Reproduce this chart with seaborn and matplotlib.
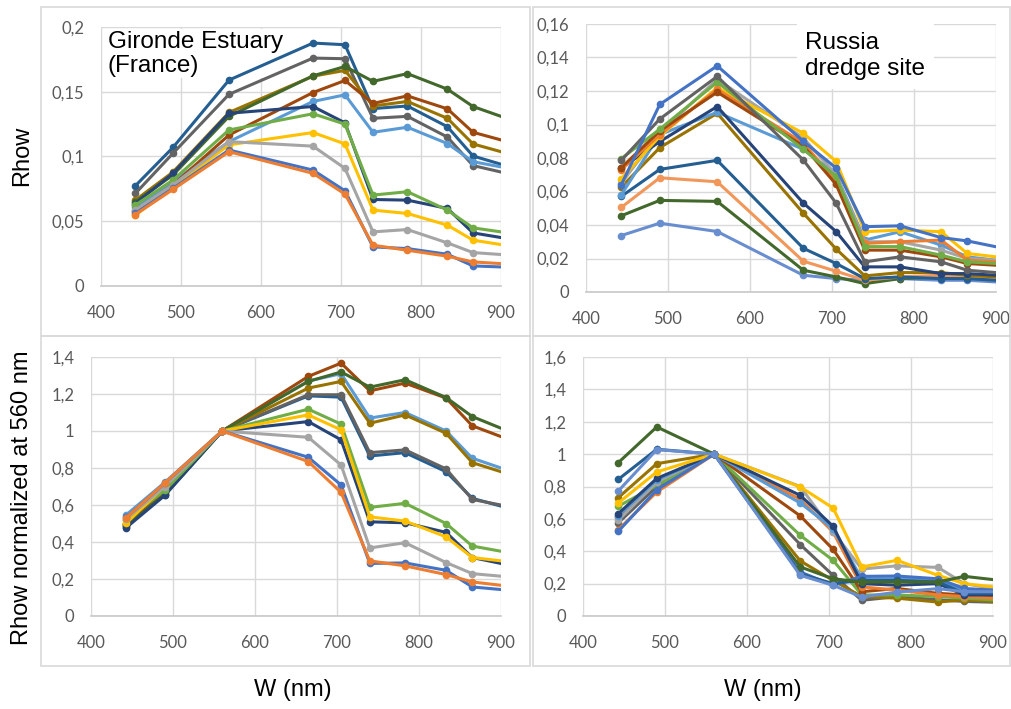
import numpy as np
import pandas as pd
import matplotlib
matplotlib.use("Agg")
import matplotlib.pyplot as plt
from matplotlib.patches import Rectangle
from matplotlib.ticker import FuncFormatter, MultipleLocator
import seaborn as sns

# ---- wavelengths (nm); last band lies beyond the 900 nm axis limit ----
WL = [443, 490, 560, 665, 705, 740, 783, 833, 865, 945]

# ---- Gironde Estuary, Rhow ----
gironde_rhow = {
    "steel":   [0.0774, 0.107, 0.159, 0.1876, 0.1863, 0.137, 0.139, 0.123, 0.1004, 0.0858],
    "dkgray":  [0.0715, 0.1025, 0.148, 0.176, 0.1755, 0.1295, 0.131, 0.115, 0.093, 0.0816],
    "lblue":   [0.061, 0.0805, 0.1115, 0.1425, 0.1476, 0.1187, 0.1226, 0.110, 0.096, 0.0868],
    "olive":   [0.0663, 0.088, 0.134, 0.162, 0.1665, 0.139, 0.1425, 0.1295, 0.1097, 0.096],
    "brown":   [0.0578, 0.078, 0.1166, 0.1494, 0.1587, 0.141, 0.1468, 0.1368, 0.1187, 0.1052],
    "dkgreen": [0.065, 0.0857, 0.131, 0.1623, 0.1695, 0.158, 0.164, 0.152, 0.1386, 0.1212],
    "navy":    [0.0637, 0.087, 0.1334, 0.1386, 0.126, 0.0668, 0.0663, 0.0599, 0.041, 0.0328],
    "green":   [0.0625, 0.0818, 0.1205, 0.133, 0.125, 0.0702, 0.0728, 0.0586, 0.0449, 0.0378],
    "yellow":  [0.0547, 0.0766, 0.109, 0.1185, 0.1097, 0.0586, 0.056, 0.047, 0.0354, 0.0276],
    "lgray":   [0.0586, 0.078, 0.1115, 0.108, 0.0908, 0.0418, 0.0436, 0.0333, 0.0258, 0.0224],
    "blue":    [0.056, 0.0754, 0.105, 0.0895, 0.0735, 0.0302, 0.0289, 0.0245, 0.0155, 0.0137],
    "orange":  [0.0552, 0.0746, 0.1037, 0.087, 0.071, 0.0315, 0.0276, 0.023, 0.0186, 0.0156],
}

# ---- Gironde Estuary, Rhow normalized at 560 nm ----
gironde_norm = {
    "steel":   [0.487, 0.673, 1, 1.19, 1.183, 0.865, 0.883, 0.78, 0.636, 0.54],
    "dkgray":  [0.483, 0.693, 1, 1.196, 1.196, 0.883, 0.898, 0.795, 0.63, 0.561],
    "lblue":   [0.547, 0.722, 1, 1.27, 1.31, 1.07, 1.10, 1.0, 0.853, 0.732],
    "olive":   [0.495, 0.657, 1, 1.232, 1.268, 1.042, 1.087, 0.988, 0.829, 0.717],
    "brown":   [0.496, 0.669, 1, 1.295, 1.367, 1.217, 1.259, 1.178, 1.028, 0.895],
    "dkgreen": [0.49, 0.655, 1, 1.268, 1.319, 1.237, 1.277, 1.181, 1.078, 0.934],
    "navy":    [0.478, 0.652, 1, 1.051, 0.952, 0.509, 0.504, 0.452, 0.316, 0.243],
    "green":   [0.519, 0.679, 1, 1.118, 1.037, 0.587, 0.609, 0.5, 0.378, 0.314],
    "yellow":  [0.502, 0.703, 1, 1.087, 1.006, 0.536, 0.513, 0.428, 0.316, 0.275],
    "lgray":   [0.526, 0.70, 1, 0.966, 0.816, 0.368, 0.396, 0.289, 0.229, 0.197],
    "blue":    [0.533, 0.718, 1, 0.858, 0.708, 0.284, 0.287, 0.247, 0.157, 0.125],
    "orange":  [0.532, 0.719, 1, 0.835, 0.668, 0.298, 0.271, 0.224, 0.184, 0.143],
}

# ---- Russia dredge site, Rhow ----
russia_rhow = {
    "cornflower": [0.0337, 0.0411, 0.0361, 0.010, 0.008, 0.007, 0.008, 0.007, 0.007, 0.0047],
    "dkgreen":    [0.0455, 0.0547, 0.0541, 0.013, 0.009, 0.005, 0.008, 0.009, 0.009, 0.0067],
    "lorange":    [0.0505, 0.0682, 0.0658, 0.0184, 0.0124, 0.007, 0.009, 0.010, 0.009, 0.0067],
    "steel":      [0.0571, 0.0732, 0.0786, 0.0261, 0.017, 0.008, 0.009, 0.008, 0.008, 0.0057],
    "olive":      [0.0626, 0.0862, 0.1067, 0.0471, 0.0257, 0.0096, 0.0116, 0.0116, 0.010, 0.0077],
    "lblue":      [0.058, 0.094, 0.1073, 0.0852, 0.0702, 0.031, 0.036, 0.028, 0.021, 0.0164],
    "navy":       [0.074, 0.0898, 0.1107, 0.0531, 0.0361, 0.015, 0.015, 0.011, 0.011, 0.0087],
    "lgray":      [0.065, 0.095, 0.127, 0.092, 0.070, 0.030, 0.030, 0.025, 0.020, 0.0177],
    "yellow":     [0.0676, 0.093, 0.122, 0.0948, 0.078, 0.036, 0.037, 0.036, 0.023, 0.0184],
    "orange":     [0.073, 0.094, 0.121, 0.089, 0.066, 0.029, 0.030, 0.031, 0.019, 0.0167],
    "brown":      [0.0742, 0.0962, 0.1193, 0.0872, 0.0642, 0.025, 0.025, 0.021, 0.017, 0.0147],
    "green":      [0.0796, 0.0972, 0.1253, 0.0852, 0.069, 0.0271, 0.0271, 0.022, 0.018, 0.0157],
    "dkgray":     [0.0786, 0.1033, 0.1287, 0.0788, 0.0531, 0.018, 0.021, 0.018, 0.013, 0.0098],
    "blue":       [0.064, 0.112, 0.135, 0.090, 0.074, 0.039, 0.0395, 0.0325, 0.0305, 0.0225],
}

# ---- Russia dredge site, Rhow normalized at 560 nm ----
russia_norm = {
    "dkgray":     [0.575, 0.80, 1, 0.441, 0.251, 0.097, 0.12, 0.10, 0.09, 0.079],
    "olive":      [0.731, 0.941, 1, 0.34, 0.22, 0.12, 0.11, 0.086, 0.10, 0.077],
    "green":      [0.678, 0.807, 1, 0.498, 0.344, 0.13, 0.13, 0.12, 0.11, 0.087],
    "brown":      [0.612, 0.83, 1, 0.618, 0.412, 0.15, 0.17, 0.14, 0.13, 0.107],
    "orange":     [0.533, 0.766, 1, 0.72, 0.519, 0.18, 0.16, 0.13, 0.12, 0.097],
    "lgray":      [0.591, 0.828, 1, 0.80, 0.52, 0.29, 0.31, 0.30, 0.2, 0.131],
    "lblue":      [0.62, 0.84, 1, 0.698, 0.54, 0.23, 0.23, 0.22, 0.16, 0.15],
    "navy":       [0.632, 0.85, 1, 0.745, 0.554, 0.2, 0.19, 0.2, 0.13, 0.13],
    "yellow":     [0.698, 0.89, 1, 0.797, 0.667, 0.303, 0.344, 0.251, 0.20, 0.154],
    "blue":       [0.523, 0.78, 1, 0.272, 0.189, 0.245, 0.247, 0.23, 0.17, 0.147],
    "steel":      [0.844, 1.03, 1, 0.26, 0.20, 0.22, 0.22, 0.21, 0.14, 0.14],
    "dkgreen":    [0.947, 1.168, 1, 0.303, 0.23, 0.21, 0.21, 0.21, 0.245, 0.199],
    "cornflower": [0.772, 1.028, 1, 0.251, 0.19, 0.117, 0.148, 0.169, 0.15, 0.15],
}

COLORS = {
    "blue": "#4472C4", "orange": "#ED7D31", "lgray": "#A5A5A5", "yellow": "#FFC000",
    "lblue": "#5B9BD5", "green": "#70AD47", "navy": "#264478", "brown": "#9E480E",
    "dkgray": "#636363", "olive": "#997300", "steel": "#255E91", "dkgreen": "#43682B",
    "cornflower": "#698ED0", "lorange": "#F1975A",
}

W, H = 1011, 709
sns.set_theme(style="white")
plt.rcParams["font.family"] = ["Lato", "DejaVu Sans"]

fig = plt.figure(figsize=(W / 100, H / 100), dpi=100)
fig.patch.set_facecolor("white")


def px_axes(x0, y0, x1, y1):
    return fig.add_axes([x0 / W, 1 - y1 / H, (x1 - x0) / W, (y1 - y0) / H])


def comma(v, _pos):
    s = f"{v:.2f}".rstrip("0").rstrip(".")
    return s.replace(".", ",")


def draw(ax, data, ymax, ystep):
    rows = []
    for name, vals in data.items():
        for w, v in zip(WL, vals):
            rows.append({"wl": w, "val": v, "series": name})
    df = pd.DataFrame(rows)
    pal = {k: COLORS[k] for k in data}
    sns.lineplot(data=df, x="wl", y="val", hue="series", hue_order=list(data.keys()),
                 palette=pal, marker="o", markersize=5.5, markeredgewidth=0,
                 linewidth=2.2, legend=False, sort=False, estimator=None, ax=ax, zorder=3)
    ax.set_xlim(400, 900)
    ax.set_ylim(0, ymax)
    ax.xaxis.set_major_locator(MultipleLocator(100))
    ax.yaxis.set_major_locator(MultipleLocator(ystep))
    ax.yaxis.set_major_formatter(FuncFormatter(comma))
    ax.grid(True, color="#D9D9D9", linewidth=1.0)
    ax.set_axisbelow(True)
    for s in ["top", "right", "left"]:
        ax.spines[s].set_visible(False)
    ax.spines["bottom"].set_color("#C8C8C8")
    ax.spines["bottom"].set_linewidth(1.2)
    ax.tick_params(axis="both", length=0, labelsize=12, labelcolor="#595959")
    ax.tick_params(axis="x", pad=14)
    ax.tick_params(axis="y", pad=12)
    ax.set_xlabel("")
    ax.set_ylabel("")
    ax.set_facecolor("white")


# chart-area frames
for (x0, y0, x1, y1) in [(41, 7, 530, 336), (533, 7, 1010, 336),
                         (41, 336, 530, 666), (533, 336, 1010, 666)]:
    fig.add_artist(Rectangle((x0 / W, 1 - y1 / H), (x1 - x0) / W, (y1 - y0) / H,
                             transform=fig.transFigure, fill=False,
                             edgecolor="#D9D9D9", linewidth=1.2))

ax_tl = px_axes(101, 27, 501, 286)
ax_tr = px_axes(586, 24, 996, 292)
ax_bl = px_axes(91, 357, 501, 616)
ax_br = px_axes(583, 357, 993, 616)

draw(ax_tl, gironde_rhow, 0.2, 0.05)
draw(ax_tr, russia_rhow, 0.16, 0.02)
draw(ax_bl, gironde_norm, 1.4, 0.2)
draw(ax_br, russia_norm, 1.6, 0.2)

ax_tl.text(0.017, 0.985, "Gironde Estuary\n(France)", transform=ax_tl.transAxes,
           ha="left", va="top", fontsize=17.5, family="Liberation Sans", color="black",
           linespacing=1.1, zorder=2.5,
           bbox=dict(facecolor="white", edgecolor="none", pad=1))
ax_tr.text(0.535, 0.97, "Russia\ndredge site", transform=ax_tr.transAxes,
           ha="left", va="top", fontsize=17.5, family="Liberation Sans", color="black",
           linespacing=1.25, zorder=2.5,
           bbox=dict(facecolor="white", edgecolor="none", pad=6))

fig.text(22 / W, 1 - 156 / H, "Rhow", rotation=90, ha="center", va="center",
         fontsize=17, family="Liberation Sans", color="black")
fig.text(22 / W, 1 - 498 / H, "Rhow normalized at 560 nm", rotation=90,
         ha="center", va="center", fontsize=17, family="Liberation Sans", color="black")
fig.text(293 / W, 1 - 690 / H, "W (nm)", ha="center", va="center",
         fontsize=17, family="Liberation Sans", color="black")
fig.text(763 / W, 1 - 690 / H, "W (nm)", ha="center", va="center",
         fontsize=17, family="Liberation Sans", color="black")

fig.savefig("out.png", dpi=100, facecolor="white")
